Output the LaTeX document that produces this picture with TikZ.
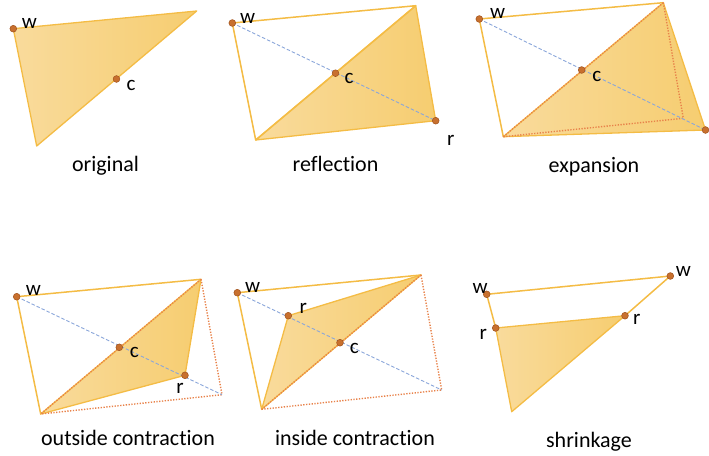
\documentclass[tikz,border=0pt]{standalone}
\usepackage{fontspec}
\setmainfont{Carlito}[Ligatures={NoCommon}]
\definecolor{edgeY}{HTML}{F4BC45}
\definecolor{fillL}{HTML}{F9DB9C}
\definecolor{fillR}{HTML}{F6CD70}
\definecolor{blueD}{HTML}{8AA6DA}
\definecolor{redD}{HTML}{E8824A}
\definecolor{dotC}{HTML}{C8702E}
\definecolor{dotD}{HTML}{A0521C}
\begin{document}
\begin{tikzpicture}[x=1pt,y=-1pt,
  edge/.style={draw=edgeY, line width=1.5pt, line join=round, line cap=round},
  tri/.style={left color=fillL, right color=fillR, draw=edgeY, line width=1.3pt, line join=round},
  blued/.style={draw=blueD, dash pattern=on 3.5pt off 2pt, line width=0.9pt},
  redd/.style={draw=redD, dash pattern=on 1.3pt off 1.5pt, line width=1.4pt},
  pt/.style={circle, fill=dotC, draw=dotD, line width=0.5pt, inner sep=0pt, minimum size=6.8pt},
  lbl/.style={font=\fontsize{21}{24}\selectfont, inner sep=0pt},
  capt/.style={font=\fontsize{22}{26}\selectfont, anchor=base, inner sep=0pt}]
\useasboundingbox (0,0) rectangle (709,455);

% ---------- original ----------
\coordinate (oW) at (13.3,28.7);
\coordinate (oT) at (196.7,11);
\coordinate (oB) at (36.7,146);
\coordinate (oC) at (116.5,79);
\path[tri] (oW) -- (oT) -- (oB) -- cycle;
\node[pt] (oWd) at (oW) {};
\node[pt] (oCd) at (oC) {};
\node[lbl] (oWl) at (29.5,23.3) {w};
\node[lbl] (oCl) at (131,85) {c};
\node[capt] (oCap) at (105.5,171) {original};

% ---------- reflection ----------
\coordinate (rW) at (232.3,23);
\coordinate (rT) at (415.7,5.7);
\coordinate (rB) at (255.7,140);
\coordinate (rC) at (335.5,73.2);
\coordinate (rR) at (435.7,120.7);
\path[tri] (rT) -- (rR) -- (rB) -- cycle;
\draw[edge] (rB) -- (rW) -- (rT) -- (rB);
\draw[blued] (rW) -- (rR);
\node[pt] (rWd) at (rW) {};
\node[pt] (rCd) at (rC) {};
\node[pt] (rRd) at (rR) {};
\node[lbl] (rWl) at (247.7,18.3) {w};
\node[lbl] (rCl) at (349,78) {c};
\node[lbl] (rRl) at (450.7,140) {r};
\node[capt] (rCap) at (335.5,171) {reflection};

% ---------- expansion ----------
\coordinate (eW) at (479.3,19);
\coordinate (eT) at (663.3,2.7);
\coordinate (eB) at (503.3,136.7);
\coordinate (eC) at (581.7,70);
\coordinate (eE) at (705.5,130);
\coordinate (eR) at (683.3,118.3);
\path[tri] (eT) -- (eE) -- (eB) -- cycle;
\draw[edge] (eB) -- (eW) -- (eT);
\draw[redd] (eT) -- (eB);
\draw[redd] (eT) -- (eR) -- (eB);
\draw[blued] (eW) -- (eE);
\node[pt] (eWd) at (eW) {};
\node[pt] (eCd) at (eC) {};
\node[pt] (eEd) at (eE) {};
\node[lbl] (eWl) at (497.7,13.3) {w};
\node[lbl] (eCl) at (596.7,76.7) {c};
\node[capt] (eCap) at (594,172) {expansion};

% ---------- outside contraction ----------
\coordinate (uW) at (16.7,296.7);
\coordinate (uT) at (201,279.3);
\coordinate (uB) at (40.7,414);
\coordinate (uC) at (119.3,347.3);
\coordinate (uO) at (185,375.3);
\coordinate (uR) at (222,394.7);
\path[tri] (uT) -- (uO) -- (uB) -- cycle;
\draw[edge] (uB) -- (uW) -- (uT);
\draw[redd] (uT) -- (uB);
\draw[redd] (uT) -- (uR) -- (uB);
\draw[blued] (uW) -- (uR);
\node[pt] (uWd) at (uW) {};
\node[pt] (uCd) at (uC) {};
\node[pt] (uOd) at (uO) {};
\node[lbl] (uWl) at (33.3,290.7) {w};
\node[lbl] (uCl) at (134.3,352.3) {c};
\node[lbl] (uOl) at (180,388.3) {r};
\node[capt] (uCap) at (128,445) {outside contraction};

% ---------- inside contraction ----------
\coordinate (iW) at (237.3,292.7);
\coordinate (iT) at (421,275);
\coordinate (iB) at (261.7,409.3);
\coordinate (iC) at (340,342.7);
\coordinate (iI) at (288.3,315.7);
\coordinate (iR) at (441.7,390);
\path[tri] (iT) -- (iI) -- (iB) -- cycle;
\draw[edge] (iB) -- (iW) -- (iT);
\draw[redd] (iT) -- (iB);
\draw[redd] (iT) -- (iR) -- (iB);
\draw[blued] (iW) -- (iR);
\node[pt] (iWd) at (iW) {};
\node[pt] (iId) at (iI) {};
\node[pt] (iCd) at (iC) {};
\node[lbl] (iWl) at (252.7,287.3) {w};
\node[lbl] (iIl) at (303.3,308.3) {r};
\node[lbl] (iCl) at (354.3,348.3) {c};
\node[capt] (iCap) at (355,445.5) {inside contraction};

% ---------- shrinkage ----------
\coordinate (sW1) at (486.7,294.3);
\coordinate (sW2) at (670.3,276);
\coordinate (sR1) at (495.7,328);
\coordinate (sR2) at (625,315.7);
\coordinate (sB) at (511.7,411.7);
\path[tri] (sR1) -- (sR2) -- (sB) -- cycle;
\draw[edge] (sR1) -- (sW1) -- (sW2) -- (sR2);
\node[pt] (sW1d) at (sW1) {};
\node[pt] (sW2d) at (sW2) {};
\node[pt] (sR1d) at (sR1) {};
\node[pt] (sR2d) at (sR2) {};
\node[lbl] (sW1l) at (480,288.3) {w};
\node[lbl] (sW2l) at (683.3,271.7) {w};
\node[lbl] (sR1l) at (483.3,334) {r};
\node[lbl] (sR2l) at (636.7,319.3) {r};
\node[capt] (sCap) at (589,447) {shrinkage};
\end{tikzpicture}
\end{document}
